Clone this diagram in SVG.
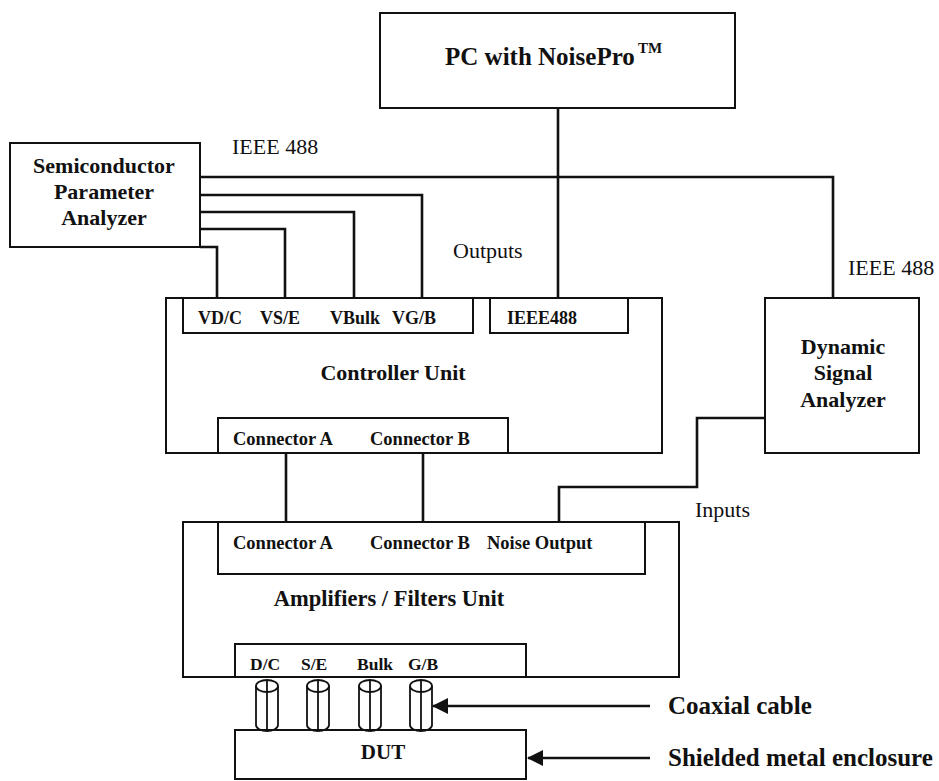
<svg xmlns="http://www.w3.org/2000/svg" width="939" height="781" viewBox="0 0 939 781">
<style>
  .box{fill:none;stroke:#111;stroke-width:2}
  .wire{fill:none;stroke:#111;stroke-width:2.6;stroke-linejoin:miter}
  .b{font-family:"Liberation Serif","Times New Roman",serif;font-weight:bold;fill:#111}
  .r{font-family:"Liberation Serif","Times New Roman",serif;fill:#111}
  .cyl{fill:#fff;stroke:#111;stroke-width:1.8}
</style>
<defs>
  <marker id="ah" viewBox="0 0 16 16" refX="15" refY="8" markerWidth="16" markerHeight="16" markerUnits="userSpaceOnUse" orient="auto">
    <path d="M16,8 L0,0 L0,16 Z" fill="#111"/>
  </marker>
</defs>
<rect width="939" height="781" fill="#fff"/>

<g id="connectors">
  <path class="wire" d="M200,177 H833 V298"/>
  <path class="wire" d="M558,108 V298"/>
  <path class="wire" d="M200,195 H422 V298"/>
  <path class="wire" d="M200,212 H354 V298"/>
  <path class="wire" d="M200,229 H285 V298"/>
  <path class="wire" d="M200,247 H217 V298"/>
  <path class="wire" d="M286,453 V522"/>
  <path class="wire" d="M423,453 V522"/>
  <path class="wire" d="M765,418 H697 V487 H559 V522"/>
  <path class="wire" d="M650,706 H433" marker-end="url(#ah)"/>
  <path class="wire" d="M650,758 H528" marker-end="url(#ah)"/>
</g>

<g id="labels">
  <text class="r" x="232" y="154" font-size="22">IEEE 488</text>
  <text class="r" x="453" y="258" font-size="22">Outputs</text>
  <text class="r" x="848" y="275" font-size="22">IEEE 488</text>
  <text class="r" x="695" y="517" font-size="22">Inputs</text>
  <text class="b" x="668" y="714" font-size="25">Coaxial cable</text>
  <text class="b" x="668" y="766" font-size="25">Shielded metal enclosure</text>
</g>

<g id="pc">
  <rect class="box" x="380" y="13" width="355" height="95"/>
  <text class="b" x="445" y="65" font-size="25">PC with NoisePro</text>
  <text class="b" x="638" y="53" font-size="15">TM</text>
</g>

<g id="spa">
  <rect class="box" x="10" y="143" width="190" height="104"/>
  <text class="b" x="104" y="173" font-size="22" text-anchor="middle">Semiconductor</text>
  <text class="b" x="104" y="199" font-size="22" text-anchor="middle">Parameter</text>
  <text class="b" x="104" y="225" font-size="22" text-anchor="middle">Analyzer</text>
</g>

<g id="controller">
  <rect class="box" x="166" y="298" width="496" height="155"/>
  <rect class="box" x="183" y="298" width="290" height="35"/>
  <rect class="box" x="490" y="298" width="138" height="35"/>
  <rect class="box" x="218" y="418" width="290" height="35"/>
  <text class="b" x="198" y="324" font-size="18">VD/C</text>
  <text class="b" x="260" y="324" font-size="18">VS/E</text>
  <text class="b" x="330" y="324" font-size="18">VBulk</text>
  <text class="b" x="392" y="324" font-size="18">VG/B</text>
  <text class="b" x="507" y="324" font-size="18">IEEE488</text>
  <text class="b" x="393" y="380" font-size="22" text-anchor="middle">Controller Unit</text>
  <text class="b" x="233" y="445" font-size="18.5">Connector A</text>
  <text class="b" x="370" y="445" font-size="18.5">Connector B</text>
</g>

<g id="dsa">
  <rect class="box" x="765" y="298" width="154" height="155"/>
  <text class="b" x="843" y="354" font-size="22" text-anchor="middle">Dynamic</text>
  <text class="b" x="843" y="380" font-size="22" text-anchor="middle">Signal</text>
  <text class="b" x="843" y="407" font-size="22" text-anchor="middle">Analyzer</text>
</g>

<g id="amplifier">
  <rect class="box" x="183" y="522" width="496" height="155"/>
  <rect class="box" x="218" y="522" width="427" height="52"/>
  <rect class="box" x="235" y="644" width="291" height="33"/>
  <text class="b" x="233" y="549" font-size="18.5">Connector A</text>
  <text class="b" x="370" y="549" font-size="18.5">Connector B</text>
  <text class="b" x="487" y="549" font-size="18.5">Noise Output</text>
  <text class="b" x="389" y="606" font-size="22.5" text-anchor="middle">Amplifiers / Filters Unit</text>
  <text class="b" x="250" y="670" font-size="17.5">D/C</text>
  <text class="b" x="301" y="670" font-size="17.5">S/E</text>
  <text class="b" x="357" y="670" font-size="17.5">Bulk</text>
  <text class="b" x="408" y="670" font-size="17.5">G/B</text>
</g>

<g id="coax">
  <g class="cyl">
    <path d="M256,686 V725 A11,6 0 0 0 278,725 V686"/>
    <ellipse cx="267" cy="686" rx="11" ry="6"/>
    <path d="M267,680 V731"/>
  </g>
  <g class="cyl">
    <path d="M307,686 V725 A11,6 0 0 0 329,725 V686"/>
    <ellipse cx="318" cy="686" rx="11" ry="6"/>
    <path d="M318,680 V731"/>
  </g>
  <g class="cyl">
    <path d="M359,686 V725 A11,6 0 0 0 381,725 V686"/>
    <ellipse cx="370" cy="686" rx="11" ry="6"/>
    <path d="M370,680 V731"/>
  </g>
  <g class="cyl">
    <path d="M410,686 V725 A11,6 0 0 0 432,725 V686"/>
    <ellipse cx="421" cy="686" rx="11" ry="6"/>
    <path d="M421,680 V731"/>
  </g>
</g>

<g id="dut">
  <rect class="box" x="235" y="730" width="291" height="49"/>
  <text class="b" x="383" y="759" font-size="21" text-anchor="middle">DUT</text>
</g>
</svg>
